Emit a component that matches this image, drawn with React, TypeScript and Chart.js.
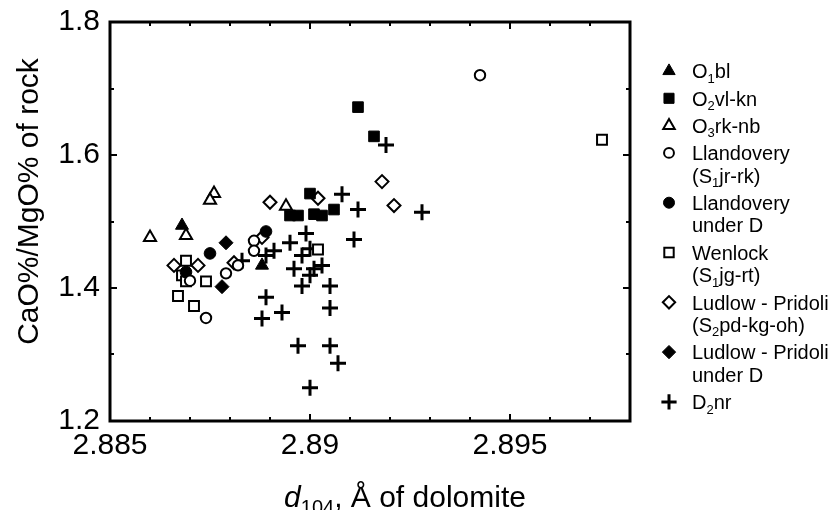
import React, { useEffect, useRef } from 'react';
import { Chart, registerables } from 'chart.js';
import { drawPoint } from 'chart.js/helpers';

Chart.register(...registerables);

// ---- data ----
const o1blX = [2.8868, 2.8888];
const o1blY = [1.494, 1.434];

const o2vlX = [2.8912, 2.8916, 2.8900, 2.8901, 2.8903, 2.8906, 2.8895, 2.8897];
const o2vlY = [1.672, 1.628, 1.542, 1.511, 1.509, 1.518, 1.509, 1.509];

const o3rkX = [2.8860, 2.8876, 2.8875, 2.8869, 2.8894];
const o3rkY = [1.476, 1.542, 1.532, 1.479, 1.523];

const llandX = [2.89425, 2.8870, 2.8874, 2.8879, 2.8882, 2.8886, 2.8886];
const llandY = [1.720, 1.411, 1.355, 1.422, 1.434, 1.471, 1.456];

const llandDX = [2.8875, 2.8889, 2.8869];
const llandDY = [1.452, 1.485, 1.424];

const wenX = [2.8973, 2.8869, 2.8868, 2.8869, 2.8874, 2.8867, 2.8871, 2.8902];
const wenY = [1.623, 1.441, 1.419, 1.410, 1.410, 1.388, 1.373, 1.458];

const ludX = [2.8866, 2.8872, 2.8881, 2.8888, 2.8890, 2.8902, 2.8918, 2.8921];
const ludY = [1.434, 1.434, 1.438, 1.476, 1.529, 1.535, 1.560, 1.524];

const ludDX = [2.8879, 2.8878];
const ludDY = [1.468, 1.402];

const d2nrX = [2.8919, 2.8908, 2.8912, 2.8928, 2.8911, 2.8883, 2.8889, 2.8891, 2.8895, 2.8899,
  2.8900, 2.8898, 2.8903, 2.8901, 2.8896, 2.8900, 2.8905, 2.8898, 2.8889, 2.8893,
  2.8888, 2.8897, 2.8905, 2.8907, 2.8900, 2.8905];
const d2nrY = [1.615, 1.541, 1.518, 1.514, 1.473, 1.441, 1.449, 1.456, 1.468, 1.482,
  1.459, 1.449, 1.434, 1.429, 1.429, 1.419, 1.403, 1.403, 1.386, 1.363,
  1.354, 1.313, 1.313, 1.287, 1.250, 1.370];

const xMin = 2.885, xMax = 2.898, xStep = 0.001;
const yMin = 1.2, yMax = 1.8, yStep = 0.1;

// legend labels: '_' marks a one-character subscript
const legendLabels: string[][] = [
  ['O_1bl'],
  ['O_2vl-kn'],
  ['O_3rk-nb'],
  ['Llandovery', '(S_1jr-rk)'],
  ['Llandovery', 'under D'],
  ['Wenlock', '(S_1jg-rt)'],
  ['Ludlow - Pridoli', '(S_2pd-kg-oh)'],
  ['Ludlow - Pridoli', 'under D'],
  ['D_2nr'],
];

const FONT = '"Liberation Sans", Arial, Helvetica, sans-serif';

type Sty = { pointStyle: string; radius: number; fill: string; borderWidth: number };
const styles: Sty[] = [
  { pointStyle: 'triangle', radius: 7.5, fill: '#000', borderWidth: 1 },
  { pointStyle: 'rect', radius: 7.5, fill: '#000', borderWidth: 1 },
  { pointStyle: 'triangle', radius: 7, fill: '#fff', borderWidth: 2 },
  { pointStyle: 'circle', radius: 5.2, fill: '#fff', borderWidth: 2 },
  { pointStyle: 'circle', radius: 5.8, fill: '#000', borderWidth: 1 },
  { pointStyle: 'rect', radius: 7, fill: '#fff', borderWidth: 2 },
  { pointStyle: 'rectRot', radius: 6.5, fill: '#fff', borderWidth: 2 },
  { pointStyle: 'rectRot', radius: 7, fill: '#000', borderWidth: 1 },
  { pointStyle: 'cross', radius: 8, fill: '#000', borderWidth: 3 },
];

const seriesXs = [o1blX, o2vlX, o3rkX, llandX, llandDX, wenX, ludX, ludDX, d2nrX];
const seriesYs = [o1blY, o2vlY, o3rkY, llandY, llandDY, wenY, ludY, ludDY, d2nrY];

function isMajorX(v: number) {
  return Math.abs(v * 200 - Math.round(v * 200)) < 1e-6;
}
function isMajorY(v: number) {
  return Math.abs(v * 5 - Math.round(v * 5)) < 1e-6;
}

function drawRich(ctx: CanvasRenderingContext2D, text: string, x: number, y: number, size: number) {
  let cx = x;
  let i = 0;
  while (i < text.length) {
    if (text[i] === '_' && i + 1 < text.length) {
      ctx.font = `${Math.round(size * 0.65)}px ${FONT}`;
      ctx.fillText(text[i + 1], cx, y + size * 0.22);
      cx += ctx.measureText(text[i + 1]).width;
      i += 2;
    } else {
      let j = i;
      while (j < text.length && text[j] !== '_') j++;
      const s = text.slice(i, j);
      ctx.font = `${size}px ${FONT}`;
      ctx.fillText(s, cx, y);
      cx += ctx.measureText(s).width;
      i = j;
    }
  }
}

const decorPlugin = {
  id: 'decor',
  afterDatasetsDraw(chart: any) {
    const { ctx, chartArea: a, scales } = chart;
    ctx.save();
    ctx.strokeStyle = '#000';
    ctx.fillStyle = '#000';
    ctx.lineWidth = 2;
    const nx = Math.round((xMax - xMin) / xStep);
    for (let k = 0; k <= nx; k++) {
      const v = xMin + k * xStep;
      const px = Math.round(scales.x.getPixelForValue(v));
      const len = isMajorX(v) ? 7 : 4;
      ctx.beginPath();
      ctx.moveTo(px, a.bottom);
      ctx.lineTo(px, a.bottom - len);
      ctx.moveTo(px, a.top);
      ctx.lineTo(px, a.top + len);
      ctx.stroke();
    }
    const ny = Math.round((yMax - yMin) / yStep);
    for (let k = 0; k <= ny; k++) {
      const v = yMin + k * yStep;
      const py = Math.round(scales.y.getPixelForValue(v));
      const len = isMajorY(v) ? 7 : 4;
      ctx.beginPath();
      ctx.moveTo(a.left, py);
      ctx.lineTo(a.left + len, py);
      ctx.moveTo(a.right, py);
      ctx.lineTo(a.right - len, py);
      ctx.stroke();
    }
    ctx.lineWidth = 3;
    ctx.strokeRect(a.left, a.top, a.right - a.left, a.bottom - a.top);

    // y title
    ctx.save();
    ctx.translate(22, (a.top + a.bottom) / 2 - 20);
    ctx.rotate(-Math.PI / 2);
    ctx.font = `30px ${FONT}`;
    ctx.textAlign = 'center';
    ctx.textBaseline = 'middle';
    ctx.fillText('CaO%/MgO% of rock', 0, 0);
    ctx.restore();

    // x title
    const ts = 30;
    ctx.textBaseline = 'alphabetic';
    ctx.textAlign = 'left';
    const parts = [
      { t: 'd', font: `italic ${ts}px ${FONT}`, dy: 0 },
      { t: '104', font: `${Math.round(ts * 0.65)}px ${FONT}`, dy: ts * 0.22 },
      { t: ', Å of dolomite', font: `${ts}px ${FONT}`, dy: 0 },
    ];
    let total = 0;
    for (const p of parts) { ctx.font = p.font; total += ctx.measureText(p.t).width; }
    let cx = (a.left + a.right) / 2 + 35 - total / 2;
    const by = 499;
    for (const p of parts) {
      ctx.font = p.font;
      ctx.fillText(p.t, cx, by + p.dy);
      cx += ctx.measureText(p.t).width;
    }

    // legend
    const mx = a.right + 39;
    const tx = a.right + 62;
    const fs = 20;
    let y = a.top + 49;
    legendLabels.forEach((lines, idx) => {
      const st = styles[idx];
      ctx.fillStyle = st.fill;
      ctx.strokeStyle = '#000';
      ctx.lineWidth = st.borderWidth;
      drawPoint(ctx, { pointStyle: st.pointStyle as any, radius: st.radius * 0.95, rotation: 0, borderWidth: st.borderWidth } as any, mx, y);
      ctx.fillStyle = '#000';
      lines.forEach((ln, li) => {
        drawRich(ctx, ln, tx, y + fs * 0.36 + li * 22.5, fs);
      });
      y += (lines.length - 1) * 22.5 + 27.3;
    });
    ctx.restore();
  },
};

export default function App() {
  const ref = useRef<HTMLCanvasElement | null>(null);
  useEffect(() => {
    if (!ref.current) return;
    const datasets = seriesXs.map((xs, i) => ({
      label: legendLabels[i].join(' '),
      data: xs.map((x, j) => ({ x, y: seriesYs[i][j] })),
      pointStyle: styles[i].pointStyle,
      pointRadius: styles[i].radius,
      backgroundColor: styles[i].fill,
      borderColor: '#000',
      borderWidth: styles[i].borderWidth,
      showLine: false,
    }));
    const chart = new Chart(ref.current, {
      type: 'scatter',
      data: { datasets: datasets as any },
      options: {
        animation: false,
        responsive: false,
        events: [],
        layout: { padding: { top: 14, right: 198, left: 0, bottom: 0 } },
        plugins: { legend: { display: false }, tooltip: { enabled: false } },
        scales: {
          x: {
            type: 'linear',
            min: xMin,
            max: xMax,
            grid: { display: false, drawTicks: false },
            border: { display: false },
            ticks: {
              stepSize: xStep,
              autoSkip: false,
              maxRotation: 0,
              padding: 7,
              color: '#000',
              font: { family: FONT, size: 30 },
              callback: (v: any) => (isMajorX(Number(v)) ? String(Math.round(Number(v) * 1000) / 1000) : ''),
            },
            afterFit: (s: any) => { s.height = 89; s.paddingLeft = 0; s.paddingRight = 0; },
          },
          y: {
            type: 'linear',
            min: yMin,
            max: yMax,
            grid: { display: false, drawTicks: false },
            border: { display: false },
            ticks: {
              stepSize: yStep,
              autoSkip: false,
              padding: 10,
              color: '#000',
              font: { family: FONT, size: 30 },
              callback: (v: any) => (isMajorY(Number(v)) ? Number(v).toFixed(1) : ''),
            },
            afterFit: (s: any) => { s.width = 102; s.paddingTop = 0; s.paddingBottom = 0; },
          },
        },
      },
      plugins: [decorPlugin],
    });
    return () => chart.destroy();
  }, []);
  return (
    <div style={{ width: 820, height: 502 }}>
      <canvas ref={ref} width={820} height={502} />
    </div>
  );
}
